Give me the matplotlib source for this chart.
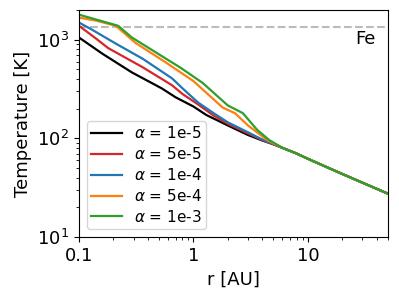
"""Midplane temperature profiles for different alpha values."""

import matplotlib.pyplot as plt
from matplotlib.ticker import FixedLocator, FixedFormatter

# =============================================================================
# Data
# =============================================================================
alpha_labels = ["1e-5", "5e-5", "1e-4", "5e-4", "1e-3"]
colors = ["black", "tab:red", "tab:blue", "tab:orange", "tab:green"]

r_1e5 = [0.1, 0.16, 0.29, 0.53, 0.7, 1.0, 1.3, 2.0, 3.0, 4.0, 5.0, 6.0, 8.0, 10, 20, 50]
T_1e5 = [1050, 720, 465, 320, 260, 210, 172, 135, 108, 95, 87, 80, 70, 62, 43.5, 27.5]

r_5e5 = [0.1, 0.14, 0.18, 0.36, 0.65, 0.8, 1.1, 1.5, 2.0, 3.0, 4.0, 5.0, 6.0, 8.0, 10, 20, 50]
T_5e5 = [1380, 1030, 820, 525, 345, 282, 220, 170, 140, 112, 96, 87, 80, 70, 62, 43.5, 27.5]

r_1e4 = [0.1, 0.13, 0.21, 0.36, 0.65, 0.8, 1.1, 1.5, 2.0, 3.0, 4.0, 5.0, 6.0, 8.0, 10, 20, 50]
T_1e4 = [1490, 1260, 910, 640, 405, 322, 230, 180, 145, 115, 97, 88, 80, 70, 62, 43.5, 27.5]

r_5e4 = [0.1, 0.14, 0.21, 0.31, 0.57, 1.0, 1.8, 2.3, 3.0, 4.4, 6.0, 8.0, 10, 20, 50]
T_5e4 = [1670, 1560, 1380, 930, 590, 380, 205, 180, 135, 96, 80, 70, 62, 43.5, 27.5]

r_1e3 = [0.1, 0.22, 0.29, 0.57, 0.77, 1.2, 2.0, 2.7, 3.6, 4.6, 6.0, 8.0, 10, 20, 50]
T_1e3 = [1790, 1380, 1050, 645, 520, 365, 215, 180, 122, 96, 80, 70, 62, 43.5, 27.5]

radii = [r_1e5, r_5e5, r_1e4, r_5e4, r_1e3]
temps = [T_1e5, T_5e5, T_1e4, T_5e4, T_1e3]

T_fe = 1350  # iron condensation temperature
x_ticks = [0.1, 1, 10]
x_ticklabels = ["0.1", "1", "10"]

# =============================================================================
# Plot
# =============================================================================
plt.rcParams['font.size'] = 13

fig = plt.figure(figsize=(3.99, 3.0), dpi=100)
ax = fig.add_axes([0.198, 0.21, 0.774, 0.757])

for r, T, lab, c in zip(radii, temps, alpha_labels, colors):
    ax.plot(r, T, color=c, lw=1.6, label=r"$\alpha$ = " + lab)

ax.axhline(T_fe, color="#bbbbbb", ls="--", lw=1.5, zorder=0)
ax.text(31.6, 912, "Fe", ha="center", va="baseline", fontsize=13)

ax.set_xscale("log")
ax.set_yscale("log")
ax.set_xlim(0.1, 50)
ax.set_ylim(10, 2000)
ax.xaxis.set_major_locator(FixedLocator(x_ticks))
ax.xaxis.set_major_formatter(FixedFormatter(x_ticklabels))

ax.set_xlabel("r [AU]")
ax.set_ylabel("Temperature [K]")

ax.legend(loc="lower left", fontsize=11, labelspacing=0.32, borderpad=0.3,
          handlelength=2.0)

fig.savefig("out.png", dpi=100)
